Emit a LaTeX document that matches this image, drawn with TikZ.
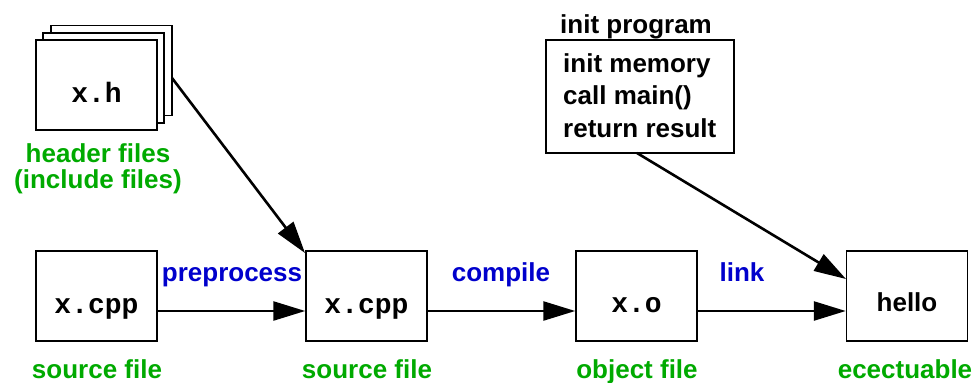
\documentclass[tikz,border=0pt]{standalone}
\usepackage{fontspec}
\setmainfont{Liberation Sans}
\setmonofont{Liberation Mono}
\usetikzlibrary{arrows.meta}
\definecolor{lblgreen}{RGB}{0,170,0}
\definecolor{lblblue}{RGB}{0,0,204}
\tikzset{
  filebox/.style={draw=black, line width=1.5pt, fill=white, minimum width=121pt, minimum height=90pt, inner sep=0pt},
  codetxt/.style={font=\fontsize{28}{30}\selectfont\ttfamily\bfseries, anchor=base, inner sep=0pt},
  greenlbl/.style={text=lblgreen, font=\fontsize{26}{30}\selectfont\bfseries, inner sep=0pt, anchor=base},
  bluelbl/.style={text=lblblue, font=\fontsize{26}{30}\selectfont\bfseries, inner sep=0pt, anchor=base},
  blacklbl/.style={text=black, font=\fontsize{26}{30}\selectfont\bfseries, inner sep=0pt, anchor=base},
  flow/.style={line width=2.6pt, -{Triangle[length=32pt,width=19pt]}, shorten >=0pt}
}
\begin{document}
\begin{tikzpicture}[x=1pt,y=-1pt]
\useasboundingbox (0,0) rectangle (978,383);
% header stack
\node[filebox] (hb3) at (111.5,70.5) {};
\node[filebox] (hb2) at (103.5,78) {};
\node[filebox] (hb1) at (96.5,85) {};
\node[codetxt] (xh) at (96.5,102) {x.h};
\node[greenlbl] (hl1) at (98,162) {header files};
\node[greenlbl] (hl2) at (98,188) {(include files)};
% bottom row
\node[filebox] (src) at (96.5,296) {};
\node[codetxt] (srct) at (96.5,313) {x.cpp};
\node[filebox] (pre) at (366.5,296) {};
\node[codetxt] (pret) at (366.5,313) {x.cpp};
\node[filebox] (obj) at (636.5,296) {};
\node[codetxt] (objt) at (636.5,312) {x.o};
\node[filebox] (exe) at (907,296) {};
\node[blacklbl] (exet) at (907,311) {hello};
\node[greenlbl] (l1) at (97,378) {source file};
\node[greenlbl] (l2) at (367,378) {source file};
\node[greenlbl] (l3) at (637,378) {object file};
\node[greenlbl] (l4) at (905,378) {ecectuable};
\node[bluelbl] (p1) at (232,281) {preprocess};
\node[bluelbl] (p2) at (501,281) {compile};
\node[bluelbl] (p3) at (742,281) {link};
% init box
\node[draw=black, line width=1.5pt, minimum width=188pt, minimum height=113pt, inner sep=0pt] (init) at (640,96.5) {};
\node[blacklbl] (initt) at (636,33) {init program};
\node[blacklbl, anchor=base west] (i1) at (563,72) {init memory};
\node[blacklbl, anchor=base west] (i2) at (563,104) {call main()};
\node[blacklbl, anchor=base west] (i3) at (563,137) {return result};
% connectors
\coordinate (hs) at (172,78);
\coordinate (pt) at (305,253);
\coordinate (is) at (637,153);
\coordinate (et) at (846,279);
\draw[flow] (src.east |- 0,311) -- (pre.west |- 0,311);
\draw[flow] (pre.east |- 0,311) -- (obj.west |- 0,311);
\draw[flow] (obj.east |- 0,311) -- (exe.west |- 0,311);
\draw[flow] (hs) -- (pt);
\draw[flow] (is) -- (et);
\end{tikzpicture}
\end{document}
